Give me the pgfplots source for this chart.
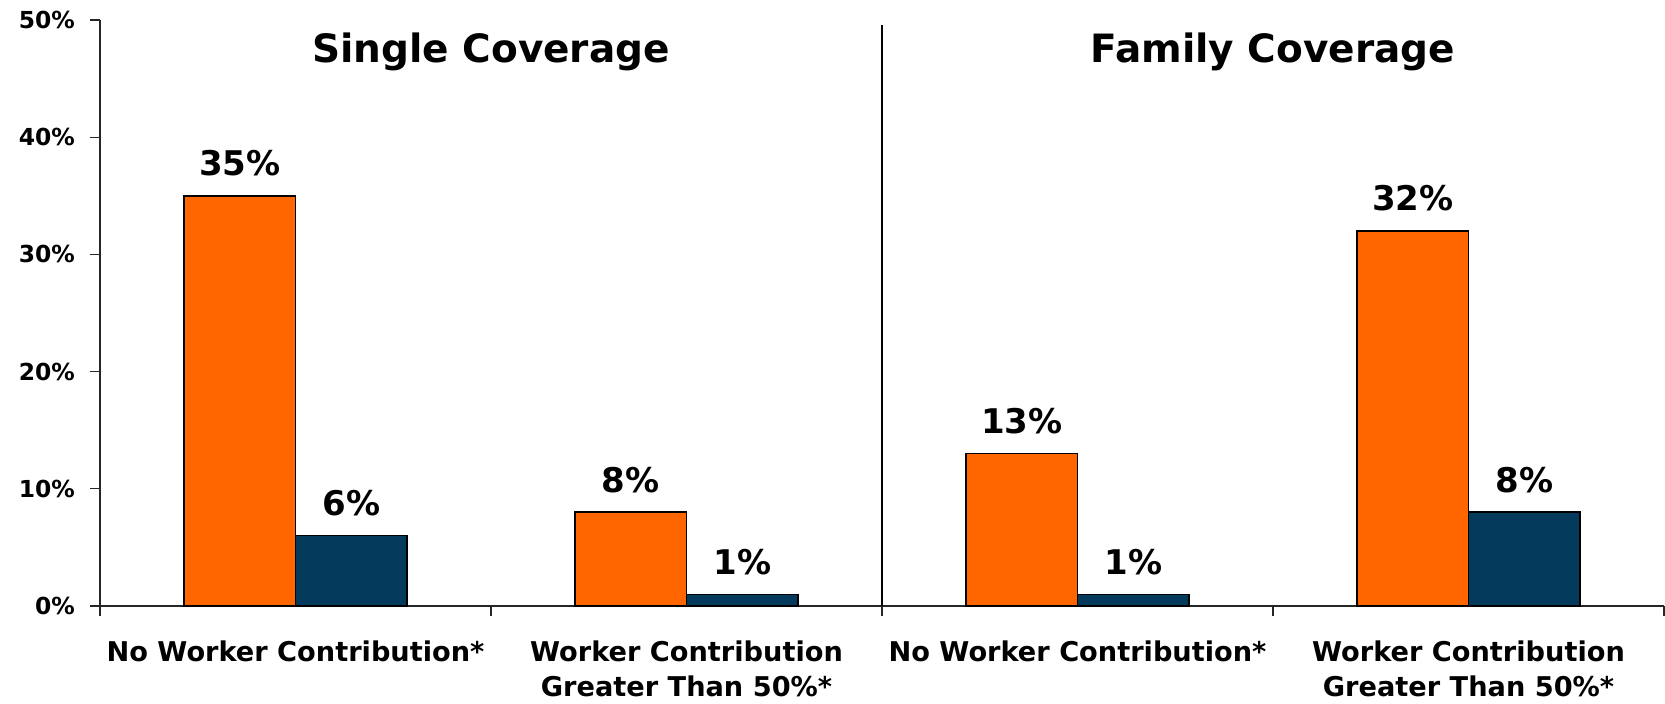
\documentclass[border=0pt]{standalone}
\usepackage{fontspec}
\setmainfont{DejaVu Sans}
\usepackage{pgfplots}
\pgfplotsset{compat=1.18}
\usetikzlibrary{calc}
\definecolor{kfforange}{HTML}{FF6600}
\definecolor{kffblue}{HTML}{043A5B}
\begin{document}
\begin{tikzpicture}
\begin{axis}[
  scale only axis,
  width=782pt, height=293pt,
  xmin=-0.5, xmax=3.5,
  ymin=0, ymax=50,
  axis lines*=left,
  axis line style={line width=0.6pt, black!85},
  /pgf/number format/assume math mode=true,
  ybar=0pt,
  bar width=0.285,
  xtick={-0.5,0.5,1.5,2.5,3.5},
  xticklabels={},
  extra x ticks={0,1,2,3},
  extra x tick labels={{No Worker Contribution*},{Worker Contribution\\Greater Than 50\%*},{No Worker Contribution*},{Worker Contribution\\Greater Than 50\%*}},
  extra x tick style={major tick length=0pt, tick style={draw=none},
    xticklabel style={font=\fontsize{13.6}{17.5}\selectfont\bfseries, align=center, anchor=north, inner sep=0pt, yshift=-17pt}},
  ytick={0,10,20,30,40,50},
  yticklabels={0\%,10\%,20\%,30\%,40\%,50\%},
  tick style={line width=0.6pt, black!85},
  major tick length=5pt,
  tick align=outside,
  yticklabel style={font=\fontsize{11.7}{14}\selectfont\bfseries, xshift=-4pt},
  nodes near coords={\pgfmathprintnumber{\pgfplotspointmeta}\%},
  nodes near coords style={font=\fontsize{17}{20}\selectfont\bfseries, anchor=south, inner sep=0pt, yshift=9.5pt},
  clip=false,
]
\addplot[fill=kfforange, draw=black, line width=0.75pt] coordinates {(0,35) (1,8) (2,13) (3,32)};
\addplot[fill=kffblue, draw=black, line width=0.75pt] coordinates {(0,6) (1,1) (2,1) (3,8)};
\draw[line width=1pt, black] (axis cs:1.5,0) -- (axis cs:1.5,49.6);
\node[anchor=base, font=\fontsize{19.5}{24}\selectfont\bfseries] at (axis cs:0.5,46.4) {Single Coverage};
\node[anchor=base, font=\fontsize{19.5}{24}\selectfont\bfseries] at (axis cs:2.5,46.4) {Family Coverage};
\coordinate (O) at (rel axis cs:0,0);
\coordinate (T) at (rel axis cs:1,1);
\end{axis}
\pgfresetboundingbox
\path ($(O)+(-50pt,-49pt)$) rectangle ($(T)+(0.5pt,10pt)$);
\end{tikzpicture}
\end{document}
